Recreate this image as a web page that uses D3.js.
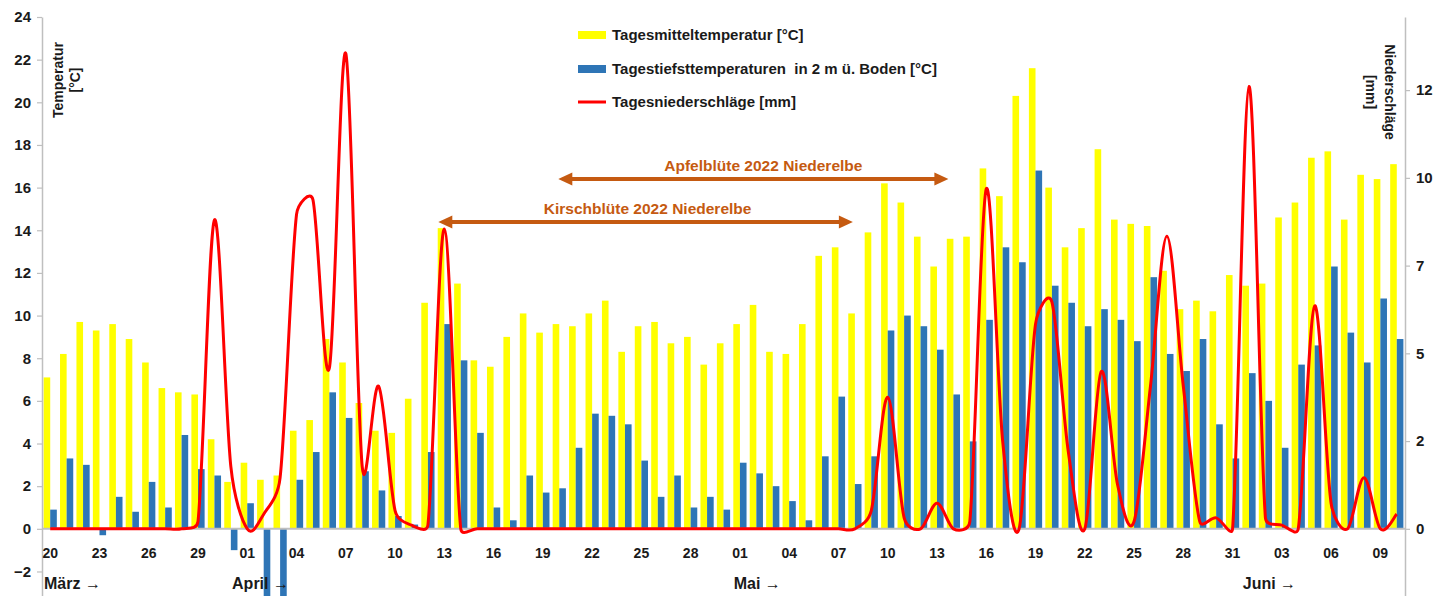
<!DOCTYPE html>
<html>
<head>
<meta charset="utf-8">
<script src="https://cdn.jsdelivr.net/npm/d3@7"></script>
<style>
  body { margin: 0; background: #fff; }
  text { font-family: "Liberation Sans", Arial, sans-serif; font-weight: bold; }
</style>
</head>
<body>
<div id="chart"></div>
<script>
// days 20.03.2022 - 10.06.2022
const categories = [
  "20.03","21.03","22.03","23.03","24.03","25.03","26.03","27.03","28.03","29.03","30.03","31.03",
  "01.04","02.04","03.04","04.04","05.04","06.04","07.04","08.04","09.04","10.04","11.04","12.04","13.04","14.04","15.04",
  "16.04","17.04","18.04","19.04","20.04","21.04","22.04","23.04","24.04","25.04","26.04","27.04","28.04","29.04","30.04",
  "01.05","02.05","03.05","04.05","05.05","06.05","07.05","08.05","09.05","10.05","11.05","12.05","13.05","14.05","15.05",
  "16.05","17.05","18.05","19.05","20.05","21.05","22.05","23.05","24.05","25.05","26.05","27.05","28.05","29.05","30.05","31.05",
  "01.06","02.06","03.06","04.06","05.06","06.06","07.06","08.06","09.06","10.06"
];

// Tagesmitteltemperatur [°C]
const meanTemp = [
  7.1, 8.2, 9.7, 9.3, 9.6, 8.9, 7.8, 6.6, 6.4, 6.3, 4.2, 2.2,
  3.1, 2.3, 2.5, 4.6, 5.1, 8.9, 7.8, 5.9, 4.6, 4.5, 6.1, 10.6, 14.1, 11.5, 7.9,
  7.6, 9.0, 10.1, 9.2, 9.6, 9.5, 10.1, 10.7, 8.3, 9.5, 9.7, 8.7, 9.0, 7.7, 8.7,
  9.6, 10.5, 8.3, 8.2, 9.6, 12.8, 13.2, 10.1, 13.9, 16.2, 15.3, 13.7, 12.3, 13.6, 13.7,
  16.9, 15.6, 20.3, 21.6, 16.0, 13.2, 14.1, 17.8, 14.5, 14.3, 14.2, 12.1, 10.3, 10.7, 10.2, 11.9,
  11.4, 11.5, 14.6, 15.3, 17.4, 17.7, 14.5, 16.6, 16.4, 17.1
];

// Tagestiefsttemperaturen in 2 m ü. Boden [°C]
const minTemp = [
  0.9, 3.3, 3.0, -0.3, 1.5, 0.8, 2.2, 1.0, 4.4, 2.8, 2.5, -1.0,
  1.2, -3.9, -3.6, 2.3, 3.6, 6.4, 5.2, 2.7, 1.8, 0.6, 0.2, 3.6, 9.6, 7.9, 4.5,
  1.0, 0.4, 2.5, 1.7, 1.9, 3.8, 5.4, 5.3, 4.9, 3.2, 1.5, 2.5, 1.0, 1.5, 0.9,
  3.1, 2.6, 2.0, 1.3, 0.4, 3.4, 6.2, 2.1, 3.4, 9.3, 10.0, 9.5, 8.4, 6.3, 4.1,
  9.8, 13.2, 12.5, 16.8, 11.4, 10.6, 9.5, 10.3, 9.8, 8.8, 11.8, 8.2, 7.4, 8.9, 4.9, 3.3,
  7.3, 6.0, 3.8, 7.7, 8.6, 12.3, 9.2, 7.8, 10.8, 8.9
];

// Tagesniederschläge [mm]
const precip = [
  0, 0, 0, 0, 0, 0, 0, 0, 0, 0.2, 8.45, 1.7,
  0, 0.4, 1.4, 8.6, 9.0, 4.4, 13.0, 1.7, 3.9, 0.5, 0.1, 0.1, 8.2, 0, 0,
  0, 0, 0, 0, 0, 0, 0, 0, 0, 0, 0, 0, 0, 0, 0,
  0, 0, 0, 0, 0, 0, 0, 0, 0.5, 3.6, 0.3, 0, 0.7, 0, 0.2,
  9.3, 2.4, 0, 5.6, 6.2, 2.1, 0, 4.3, 1.2, 0.2, 3.9, 8.0, 3.9, 0.2, 0.3, 0,
  12.1, 0.3, 0.1, 0, 6.1, 0.7, 0, 1.4, 0, 0.4
];

const tempTicks = [-2, 0, 2, 4, 6, 8, 10, 12, 14, 16, 18, 20, 22, 24];
const precipTicks = [0, 2.4, 4.8, 7.2, 9.6, 12];

const monthNames = ["März →", "April →", "Mai →", "Juni →"];
const monthStarts = ["20.03", "01.04", "01.05", "01.06"];

const legendLabels = [
  "Tagesmitteltemperatur [°C]",
  "Tagestiefsttemperaturen  in 2 m ü. Boden [°C]",
  "Tagesniederschläge [mm]"
];

const bloomNames = ["Apfelblüte 2022 Niederelbe", "Kirschblüte 2022 Niederelbe"];
const bloomStart = ["20.04", "13.04"];
const bloomEnd = ["14.05", "08.05"];

const width = 1437, height = 596;
const left = 42, right = 1405;
const yellow = "#FFFF00", blue = "#2E75B6", red = "#FF0000", orange = "#C55A11", grey = "#BFBFBF";

// smoothed line like the spreadsheet one: catmull-rom bezier, control arms capped at half a segment
function smoothCurve(context) {
  let pts;
  const dist = (a, b) => Math.hypot(b[0] - a[0], b[1] - a[1]);
  return {
    areaStart() {}, areaEnd() {},
    lineStart() { pts = []; },
    point(px, py) { pts.push([+px, +py]); },
    lineEnd() {
      const n = pts.length;
      if (!n) return;
      context.moveTo(pts[0][0], pts[0][1]);
      for (let i = 0; i < n - 1; i++) {
        const p0 = pts[Math.max(i - 1, 0)], p1 = pts[i], p2 = pts[i + 1], p3 = pts[Math.min(i + 2, n - 1)];
        const d12 = dist(p1, p2), d02 = dist(p0, p2), d13 = dist(p1, p3);
        let f1 = 1 / 6, f2 = 1 / 6;
        if (d02 > 0 && d02 * f1 > d12 / 2) f1 = d12 / 2 / d02;
        if (d13 > 0 && d13 * f2 > d12 / 2) f2 = d12 / 2 / d13;
        context.bezierCurveTo(
          p1[0] + (p2[0] - p0[0]) * f1, p1[1] + (p2[1] - p0[1]) * f1,
          p2[0] - (p3[0] - p1[0]) * f2, p2[1] - (p3[1] - p1[1]) * f2,
          p2[0], p2[1]);
      }
    }
  };
}

const svg = d3.select("#chart").append("svg")
  .attr("width", width)
  .attr("height", height);

const x = d3.scaleBand().domain(categories).range([left, right]).padding(0);
const bw = x.bandwidth();
const xSub = d3.scaleBand().domain(["mean", "min"]).range([1.6, bw - 1.6]);

const y = d3.scaleLinear().domain([-3.15, 24]).range([596, 17]);
const yR = d3.scaleLinear().domain([-3.15 * 14 / 24, 14]).range([596, 17]);

// bars
const days = categories.map((c, i) => ({ c, mean: meanTemp[i], min: minTemp[i], p: precip[i] }));

svg.append("g").selectAll("rect")
  .data(days)
  .join("rect")
  .attr("x", d => x(d.c) + xSub("mean"))
  .attr("y", d => y(Math.max(0, d.mean)))
  .attr("width", xSub.bandwidth())
  .attr("height", d => Math.abs(y(d.mean) - y(0)))
  .attr("fill", yellow);

svg.append("g").selectAll("rect")
  .data(days)
  .join("rect")
  .attr("x", d => x(d.c) + xSub("min"))
  .attr("y", d => y(Math.max(0, d.min)))
  .attr("width", xSub.bandwidth())
  .attr("height", d => Math.abs(y(d.min) - y(0)))
  .attr("fill", blue);

// zero line
svg.append("line")
  .attr("x1", left).attr("x2", right)
  .attr("y1", y(0)).attr("y2", y(0))
  .attr("stroke", grey).attr("stroke-width", 2);

// left axis
const yAxis = svg.append("g")
  .attr("transform", `translate(${left},0)`)
  .call(d3.axisLeft(y).tickValues(tempTicks).tickSize(5).tickSizeOuter(0).tickPadding(6));

// right axis
const yAxisR = svg.append("g")
  .attr("transform", `translate(${right},0)`)
  .call(d3.axisRight(yR).tickValues(precipTicks).tickFormat(d3.format(".0f")).tickSize(5).tickSizeOuter(0).tickPadding(6));

[yAxis, yAxisR].forEach(a => {
  a.select(".domain").attr("stroke", grey).attr("stroke-width", 1.5);
  a.selectAll(".tick line").attr("stroke", grey).attr("stroke-width", 1.2);
  a.selectAll(".tick text")
    .attr("fill", "#1a1a1a")
    .style("font-size", "15px")
    .style("font-family", "'Liberation Sans', Arial, sans-serif")
    .style("font-weight", "bold");
});

// precipitation line
const line = d3.line()
  .x(d => x(d.c) + bw / 2)
  .y(d => yR(d.p))
  .curve(smoothCurve);

svg.append("path")
  .datum(days)
  .attr("d", line)
  .attr("fill", "none")
  .attr("stroke", red)
  .attr("stroke-width", 3)
  .attr("stroke-linejoin", "round");

// x tick labels (every third day)
svg.append("g").selectAll("text")
  .data(categories.filter((c, i) => i % 3 === 0))
  .join("text")
  .attr("x", d => x(d) + bw / 2)
  .attr("y", 558)
  .attr("text-anchor", "middle")
  .attr("font-size", 14)
  .attr("fill", "#1a1a1a")
  .text(d => d.slice(0, 2));

// month labels
svg.append("g").selectAll("text")
  .data(monthNames)
  .join("text")
  .attr("x", (d, i) => x(monthStarts[i]) + (i === 1 ? -7 : 2))
  .attr("y", 589)
  .attr("font-size", 16)
  .attr("fill", "#1a1a1a")
  .text(d => d);

// axis titles
const leftTitle = svg.append("text")
  .attr("transform", "translate(63,80) rotate(-90)")
  .attr("text-anchor", "middle")
  .attr("font-size", 14)
  .attr("fill", "#1a1a1a");
leftTitle.append("tspan").attr("x", 0).attr("dy", 0).text("Temperatur");
leftTitle.append("tspan").attr("x", 0).attr("dy", 17).text("[°C]");

const rightTitle = svg.append("text")
  .attr("transform", "translate(1385,92) rotate(90)")
  .attr("text-anchor", "middle")
  .attr("font-size", 14)
  .attr("fill", "#1a1a1a");
rightTitle.append("tspan").attr("x", 0).attr("dy", 0).text("Niederschläge");
rightTitle.append("tspan").attr("x", 0).attr("dy", 19).text("[mm]");

// legend
const legend = svg.append("g").attr("transform", "translate(578,0)");
const legendY = [35, 69, 102];
legend.append("rect").attr("x", 0).attr("y", legendY[0] - 4).attr("width", 28).attr("height", 8).attr("fill", yellow);
legend.append("rect").attr("x", 0).attr("y", legendY[1] - 4).attr("width", 28).attr("height", 8).attr("fill", blue);
legend.append("line").attr("x1", 0).attr("x2", 28).attr("y1", legendY[2]).attr("y2", legendY[2])
  .attr("stroke", red).attr("stroke-width", 3);
legend.selectAll("text.lg")
  .data(legendLabels)
  .join("text")
  .attr("class", "lg")
  .attr("x", 34)
  .attr("y", (d, i) => legendY[i] + 5)
  .attr("font-size", 15)
  .attr("fill", "#1a1a1a")
  .style("white-space", "pre")
  .text(d => d);

// bloom arrows
const arrowY = [179, 222];
const startShift = [-1, -6];
bloomNames.forEach((name, i) => {
  const x1 = x(bloomStart[i]) + bw / 2 + startShift[i], x2 = x(bloomEnd[i]) + bw / 2 - (i === 0 ? 5 : 2);
  const yy = arrowY[i], head = 14, hw = 6.5;
  svg.append("line")
    .attr("x1", x1 + head - 2).attr("x2", x2 - head + 2)
    .attr("y1", yy).attr("y2", yy)
    .attr("stroke", orange).attr("stroke-width", 4);
  svg.append("path")
    .attr("d", `M${x1},${yy} L${x1 + head},${yy - hw} L${x1 + head},${yy + hw} Z`)
    .attr("fill", orange);
  svg.append("path")
    .attr("d", `M${x2},${yy} L${x2 - head},${yy - hw} L${x2 - head},${yy + hw} Z`)
    .attr("fill", orange);
  svg.append("text")
    .attr("x", (x1 + x2) / 2 + (i === 0 ? 10 : 2))
    .attr("y", yy - 8)
    .attr("text-anchor", "middle")
    .attr("font-size", 15.5)
    .attr("fill", orange)
    .text(name);
});
</script>
</body>
</html>
